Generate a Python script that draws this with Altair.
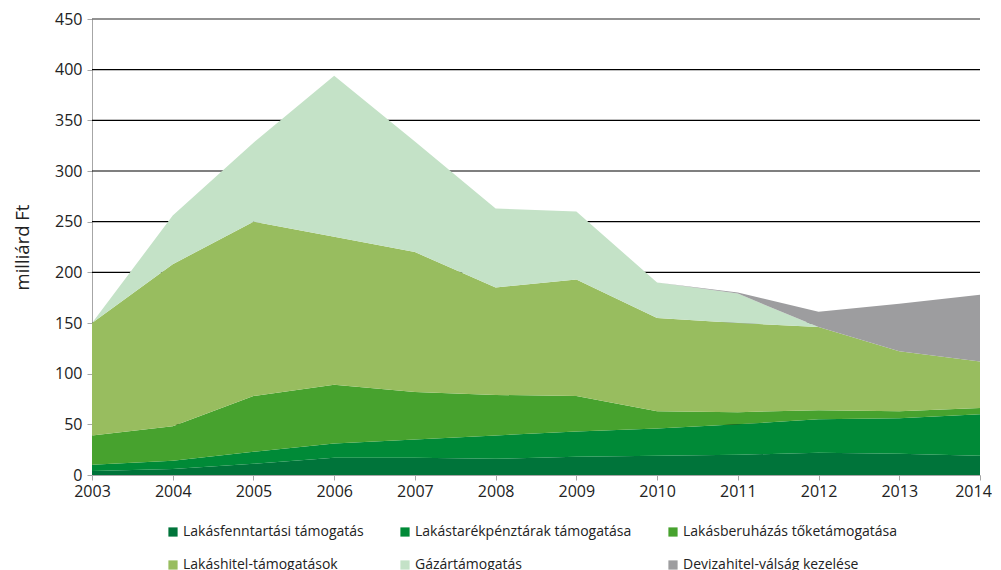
import altair as alt
import pandas as pd

years = [2003, 2004, 2005, 2006, 2007, 2008, 2009, 2010, 2011, 2012, 2013, 2014]
series_names = [
    "Lakásfenntartási támogatás",
    "Lakástarékpénztárak támogatása",
    "Lakásberuházás tőketámogatása",
    "Lakáshitel-támogatások",
    "Gázártámogatás",
    "Devizahitel-válság kezelése",
]
s1 = [4, 6, 11, 17, 17, 16, 18, 19, 20, 22, 21, 19]
s2 = [6, 8, 12, 14, 18, 23, 25, 27, 30, 33, 35, 41]
s3 = [29, 34, 55, 58, 47, 40, 35, 17, 12, 9, 7, 6]
s4 = [111, 160, 172, 146, 138, 106, 115, 92, 88, 82, 59, 46]
s5 = [0, 48, 78, 159, 109, 78, 67, 35, 29, 0, 0, 0]
s6 = [0, 0, 0, 0, 0, 0, 0, 0, 1, 15, 47, 66]
colors = ["#00743a", "#008a37", "#47a22e", "#98bd5f", "#c4e2c7", "#9d9d9f"]
grid_values = [50, 100, 150, 200, 250, 300, 350, 400, 450]
y_ticks = [0, 50, 100, 150, 200, 250, 300, 350, 400, 450]

rows = []
for k, (name, vals) in enumerate(zip(series_names, [s1, s2, s3, s4, s5, s6])):
    for yr, v in zip(years, vals):
        rows.append({"year": yr, "series": name, "value": v, "ord": k})
df = pd.DataFrame(rows)

grid_df = pd.DataFrame({"g": grid_values})

FONT = "Open Sans"

x_scale = alt.Scale(domain=[2003, 2014], nice=False, zero=False)
x_axis = alt.Axis(
    values=years, format="d", title=None, grid=False,
    domainColor="#a6a6a6", tickColor="#a6a6a6", tickSize=5,
    labelFontSize=16, labelFont=FONT, labelColor="#222222", labelPadding=3,
    labelFlush=False,
    labelOffset={"condition": {"test": "datum.value == 2014", "value": -7}, "value": 0},
)
y_scale = alt.Scale(domain=[0, 450], nice=False)
y_axis = alt.Axis(
    values=y_ticks, title="milliárd Ft", grid=False,
    domainColor="#a6a6a6", tickColor="#a6a6a6", tickSize=5,
    labelFontSize=16, labelFont=FONT, labelColor="#222222", labelPadding=5,
    titleFontSize=18.5, titleFont=FONT, titleFontWeight="normal",
    titleColor="#222222", titlePadding=22,
)

grid = alt.Chart(grid_df).mark_rule().encode(
    y=alt.Y("g:Q", scale=y_scale, axis=y_axis),
    color=alt.condition("datum.g == 450", alt.value("#6e6e6e"), alt.value("#000000")),
    strokeWidth=alt.condition("datum.g == 450", alt.value(1.6), alt.value(1.2)),
)

area = alt.Chart(df).mark_area(interpolate="linear").encode(
    x=alt.X("year:Q", scale=x_scale, axis=x_axis),
    y=alt.Y("value:Q", stack="zero", scale=y_scale, axis=y_axis),
    color=alt.Color(
        "series:N",
        scale=alt.Scale(domain=series_names, range=colors),
        legend=alt.Legend(
            title=None, orient="none", legendX=74, legendY=506, columns=3,
            direction="horizontal",
            symbolType="square", symbolSize=85, symbolStrokeWidth=0,
            labelFontSize=14, labelFont=FONT, labelColor="#222222", labelLimit=400,
            columnPadding=34, rowPadding=19, labelOffset=3,
        ),
    ),
    order=alt.Order("ord:Q"),
)

chart = alt.layer(grid, area).properties(
    width=888, height=456,
    autosize=alt.AutoSizeParams(type="none"),
    padding={"left": 84, "top": 11, "right": 12, "bottom": 95},
).configure_view(stroke=None)

chart.save("out.html", embed_options={"renderer": "svg", "actions": False})
